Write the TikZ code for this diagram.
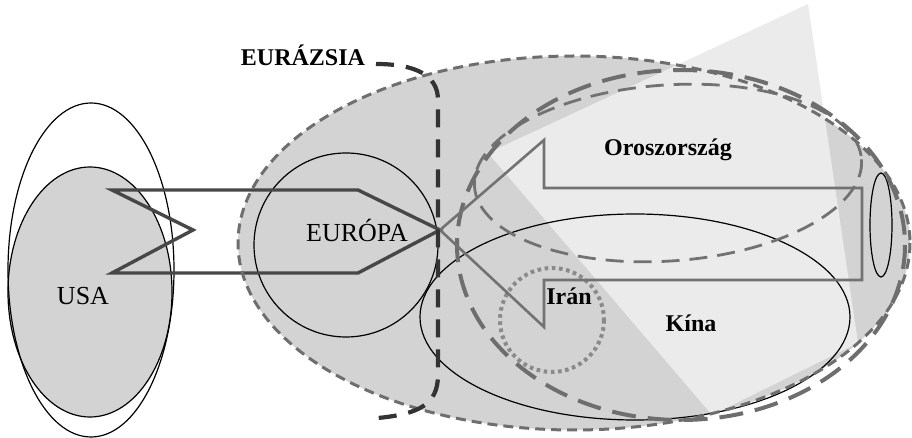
\documentclass[tikz,border=0pt]{standalone}
\usepackage{fontspec}
\setmainfont{Liberation Serif}
\definecolor{eufill}{HTML}{D3D3D3}
\definecolor{lightfill}{HTML}{EBEBEB}
\definecolor{dgray}{HTML}{333333}
\definecolor{mgray}{HTML}{6E6E6E}
\definecolor{agray}{HTML}{727272}
\definecolor{igray}{HTML}{8A8A8A}
\begin{document}
\begin{tikzpicture}[x=0.5pt,y=-0.5pt,
  thinline/.style={draw=black,line width=0.6pt},
  eurasiaedge/.style={draw=mgray,line width=1.5pt,dash pattern=on 5pt off 3pt},
  bigedge/.style={draw=mgray,line width=2pt,dash pattern=on 12pt off 6pt},
  russiaedge/.style={draw=agray,line width=1.4pt,dash pattern=on 9pt off 5pt},
  iranedge/.style={draw=igray,line width=2pt,dash pattern=on 1.8pt off 1.8pt},
  darkedge/.style={draw=dgray,line width=2.1pt,dash pattern=on 9pt off 6pt},
  usaarrow/.style={draw=dgray!90,line width=1.7pt,line join=miter},
  eastarrow/.style={draw=agray,line width=1.3pt,line join=miter},
  reglabel/.style={font=\fontsize{13}{15}\selectfont,anchor=base,inner sep=0pt},
  boldlabel/.style={font=\fontsize{12}{14}\selectfont\bfseries,anchor=base,inner sep=0pt}]
\useasboundingbox (0,0) rectangle (912,438);
% Eurasia fill
\fill[eufill] (574,243) ellipse [x radius=336,y radius=187];
% light cone
\fill[lightfill] (808,4) -- (488,153) -- (712,415) -- (858,343) -- cycle;
% USA
\draw[thinline,fill=eufill] (90,292) ellipse [x radius=82,y radius=125];
\draw[thinline] (91,270) ellipse [x radius=83,y radius=167];
% Europe
\draw[thinline] (346,245) circle [radius=92];
% China
\draw[thinline] (635,317) ellipse [x radius=215,y radius=103];
% small ellipse
\draw[thinline] (881,225) ellipse [x radius=11,y radius=52];
% Russia
\draw[russiaedge,rotate around={4:(668,173)}] (668,173) ellipse [x radius=194,y radius=88];
% big thick dashed
\draw[bigedge] (681,245) ellipse [x radius=224,y radius=175];
% Iran
\draw[iranedge] (552,320) circle [radius=52];
% arrows
\draw[usaarrow] (112,190) -- (358,190) -- (440,230) -- (358,273) -- (112,273) -- (193,230) -- cycle;
\draw[eastarrow] (440,230) -- (544,140) -- (544,188) -- (862,188) -- (862,280) -- (544,280) -- (544,327) -- cycle;
% Eurasia outline
\draw[eurasiaedge] (574,243) ellipse [x radius=336,y radius=187];
% dark boundary
\draw[darkedge] (376,64) .. controls (415,64) and (438,75) .. (438,100) -- (438,375) .. controls (438,405) and (418,414) .. (378,418);
% labels
\node[boldlabel] (eurazsia) at (303,66) {EURÁZSIA};
\node[reglabel] (europa) at (357,242) {EURÓPA};
\node[reglabel] (usa) at (83,305) {USA};
\node[boldlabel] (orosz) at (668,156) {Oroszország};
\node[boldlabel] (kina) at (691,332) {Kína};
\node[boldlabel] (iran) at (569,305) {Irán};
\end{tikzpicture}
\end{document}
